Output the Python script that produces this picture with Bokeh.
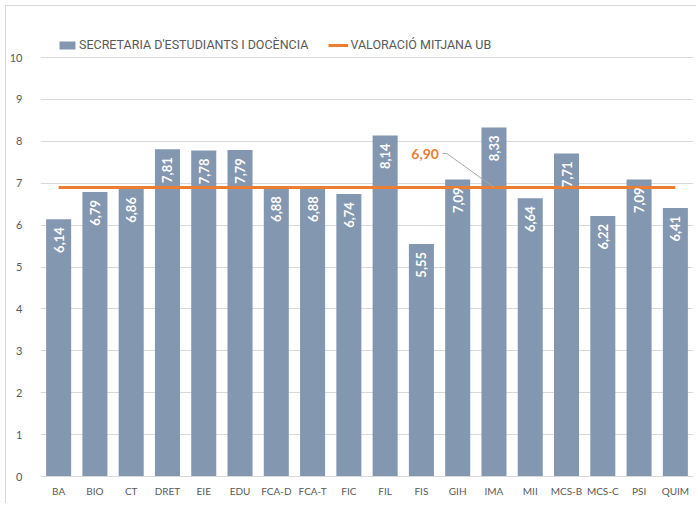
import math
from bokeh.plotting import figure
from bokeh.models import ColumnDataSource, Legend, LegendItem, FactorRange, Range1d, FixedTicker
from bokeh.core.properties import value
from bokeh.embed import file_html
from bokeh.resources import INLINE

categories = ["BA", "BIO", "CT", "DRET", "EIE", "EDU", "FCA-D", "FCA-T", "FIC", "FIL",
              "FIS", "GIH", "IMA", "MII", "MCS-B", "MCS-C", "PSI", "QUIM"]
scores = [6.14, 6.79, 6.86, 7.81, 7.78, 7.79, 6.88, 6.88, 6.74, 8.14,
          5.55, 7.09, 8.33, 6.64, 7.71, 6.22, 7.09, 6.41]
mean_value = 6.90
mean_label_category = "IMA"
y_ticks = [0, 1, 2, 3, 4, 5, 6, 7, 8, 9, 10]

BAR = "#8497b0"
ORANGE = "#ed7d31"
FONT = "Lato"
LEGEND_FONT = "Roboto"

labels = [f"{v:.2f}".replace(".", ",") for v in scores]
src = ColumnDataSource(dict(cat=categories, val=scores, lab=labels,
                            mean=[mean_value] * len(categories)))

p = figure(width=691, height=498, x_range=FactorRange(*categories, range_padding=0),
           y_range=Range1d(0, 10.645), output_backend="svg", toolbar_location=None,
           min_border_left=33, min_border_right=4, min_border_top=24, min_border_bottom=28)
p.outline_line_color = None
p.styles = {"margin-left": "5px", "margin-top": "5px",
            "border-top": "1px solid #d9d9d9", "border-left": "1px solid #d9d9d9"}

bars = p.vbar(x="cat", top="val", width=0.69, source=src, fill_color=BAR, line_color=None)
line = p.line(x="cat", y="mean", source=src, line_color=ORANGE, line_width=3)

p.text(x="cat", y="val", text="lab", source=src, angle=math.pi / 2,
       text_align="right", text_baseline="middle", y_offset=8,
       text_color="white", text_font=value(FONT), text_font_style="bold",
       text_font_size="13px")

# mean data label with leader line (leader drawn in synthetic categorical coords)
idx = categories.index(mean_label_category) + 0.5
p.line(x=[idx - 1.41, idx - 1.30, idx], y=[mean_value + 0.81, mean_value + 0.81, mean_value],
       line_color="#a6a6a6", line_width=1)
p.text(x=[mean_label_category], y=[mean_value], text=[f"{mean_value:.2f}".replace(".", ",")],
       x_offset=-55, y_offset=-33, text_align="right", text_baseline="middle",
       text_color=ORANGE, text_font=value(FONT), text_font_style="bold", text_font_size="14px")

p.yaxis.ticker = FixedTicker(ticks=y_ticks)
p.yaxis.axis_line_color = None
p.yaxis.major_tick_line_color = None
p.yaxis.minor_tick_line_color = None
p.yaxis.major_label_text_color = "#595959"
p.yaxis.major_label_text_font = FONT
p.yaxis.major_label_text_font_size = "11px"
p.yaxis.major_label_standoff = 12

p.xaxis.axis_line_color = "#d9d9d9"
p.xaxis.major_tick_line_color = None
p.xaxis.minor_tick_line_color = None
p.xaxis.major_label_text_color = "#595959"
p.xaxis.major_label_text_font = FONT
p.xaxis.major_label_text_font_size = "10px"
p.xaxis.major_label_standoff = 2

p.xgrid.grid_line_color = None
p.ygrid.grid_line_color = "#d9d9d9"

legend = Legend(items=[LegendItem(label="SECRETARIA D'ESTUDIANTS I DOCÈNCIA", renderers=[bars]),
                       LegendItem(label="VALORACIÓ MITJANA UB", renderers=[line])],
                orientation="horizontal", location=(17, 424), border_line_color=None,
                background_fill_alpha=0,
                label_text_font=LEGEND_FONT, label_text_font_size="12.5px", label_text_color="#595959",
                glyph_width=20, glyph_height=10, label_height=14, spacing=20, padding=0, margin=0,
                label_standoff=2)
p.add_layout(legend, "center")

open("out.html", "w").write(file_html(p, INLINE))
